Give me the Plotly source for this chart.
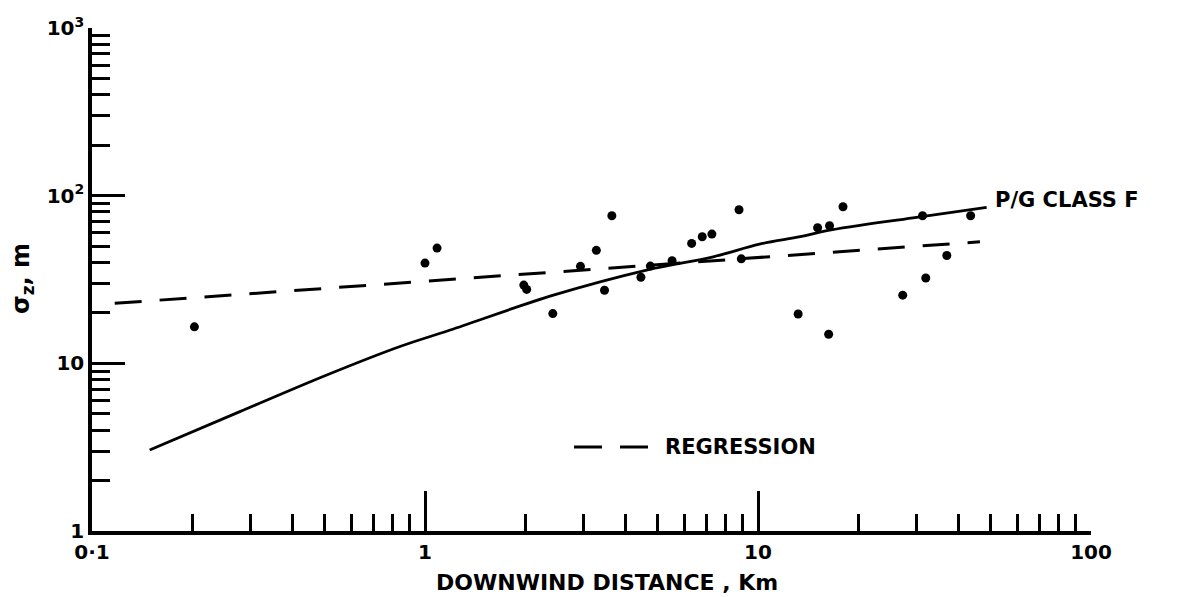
import plotly.graph_objects as go

# Observed data points (downwind distance km, sigma_z m)
obs_x = [0.203, 1.0, 1.087, 1.98, 2.02, 2.42, 2.93, 3.27, 3.46, 3.64, 4.45, 4.75, 5.52,
         6.32, 6.80, 7.27, 8.77, 8.91, 13.2, 15.1, 16.3, 16.4, 18.0, 27.2, 31.2, 31.9,
         36.9, 43.5]
obs_y = [16.5, 39.6, 48.7, 29.3, 27.6, 19.8, 37.9, 47.2, 27.3, 75.9, 32.6, 38.0, 40.9,
         51.9, 56.9, 59.0, 82.4, 42.0, 19.7, 64.4, 14.9, 66.2, 85.9, 25.5, 75.9, 32.3,
         44.0, 75.9]

# P/G class F curve
pg_x = [0.149, 0.278, 0.507, 0.841, 1.19, 2.43, 4.63, 7.34, 10.1, 13.4, 16.1, 29.2, 48.6]
pg_y = [3.04, 5.15, 8.52, 12.6, 15.8, 25.5, 36.0, 43.2, 51.4, 56.9, 61.8, 73.8, 85.2]

# Regression line end points
reg_x = [0.117, 46.4]
reg_y = [22.8, 53.1]

x_tickvals = [0.1, 1, 10, 100]
x_ticktext = ["0·1", "1", "10", "100"]
y_tickvals = [1, 10, 100, 1000]
y_ticktext = ["1", "10", "10<sup>2</sup>", "10<sup>3</sup>"]

W, H = 1189, 597
ML, MR, MT, MB = 92, 98, 28, 66
PW, PH = W - ML - MR, H - MT - MB


def px_x(p):
    return (p - ML) / PW


def px_y(p):
    return (H - MB - p) / PH


FONT = "DejaVu Sans"

fig = go.Figure()
fig.add_trace(go.Scatter(x=reg_x, y=reg_y, mode="lines",
                         line=dict(color="black", width=3, dash="27px,18px"),
                         showlegend=False))
fig.add_trace(go.Scatter(x=pg_x, y=pg_y, mode="lines",
                         line=dict(color="black", width=2.8, shape="spline", smoothing=1.0),
                         showlegend=False))
fig.add_trace(go.Scatter(x=obs_x, y=obs_y, mode="markers",
                         marker=dict(color="black", size=9),
                         showlegend=False))

fig.update_layout(
    width=W, height=H,
    margin=dict(l=ML, r=MR, t=MT, b=MB, pad=0),
    paper_bgcolor="white", plot_bgcolor="white",
    font=dict(family=FONT, color="black"),
)

fig.update_xaxes(
    type="log", range=[-1, 2],
    showgrid=False, zeroline=False,
    showline=True, linecolor="black", linewidth=3.5, mirror=False,
    tickmode="array", tickvals=x_tickvals, ticktext=x_ticktext,
    ticks="inside", ticklen=40, tickwidth=3, tickcolor="black",
    tickfont=dict(size=20, family=FONT, weight="bold"),
    minor=dict(ticks="inside", ticklen=17, tickwidth=3, tickcolor="black",
               dtick="D1", showgrid=False),
)
fig.update_yaxes(
    type="log", range=[0, 3],
    showgrid=False, zeroline=False,
    showline=True, linecolor="black", linewidth=3.5, mirror=False,
    tickmode="array", tickvals=y_tickvals, ticktext=y_ticktext,
    ticks="inside", ticklen=33, tickwidth=3, tickcolor="black",
    tickfont=dict(size=20, family=FONT, weight="bold"),
    minor=dict(ticks="inside", ticklen=18, tickwidth=3, tickcolor="black",
               dtick="D1", showgrid=False),
)

# Legend key for regression
fig.add_shape(type="line", xref="paper", yref="paper",
              x0=px_x(574), x1=px_x(648), y0=px_y(447), y1=px_y(447),
              line=dict(color="black", width=3, dash="28px,18px"))

fig.add_annotation(text="REGRESSION", xref="paper", yref="paper",
                   x=px_x(663), y=px_y(447), xanchor="left", yanchor="middle",
                   showarrow=False, font=dict(size=21, family=FONT, weight="bold"))
fig.add_annotation(text="P/G CLASS F", xref="paper", yref="paper",
                   x=px_x(993), y=px_y(200), xanchor="left", yanchor="middle",
                   showarrow=False, font=dict(size=21, family=FONT, weight="bold"))
fig.add_annotation(text="DOWNWIND DISTANCE , Km", xref="paper", yref="paper",
                   x=px_x(607), y=px_y(582), xanchor="center", yanchor="middle",
                   showarrow=False, font=dict(size=22, family=FONT, weight="bold"))
fig.add_annotation(text="σ<sub>z</sub>, m", xref="paper", yref="paper",
                   x=px_x(22), y=px_y(279), xanchor="center", yanchor="middle",
                   textangle=-90, showarrow=False,
                   font=dict(size=24, family=FONT, weight="bold"))

fig.write_html("out.html")
